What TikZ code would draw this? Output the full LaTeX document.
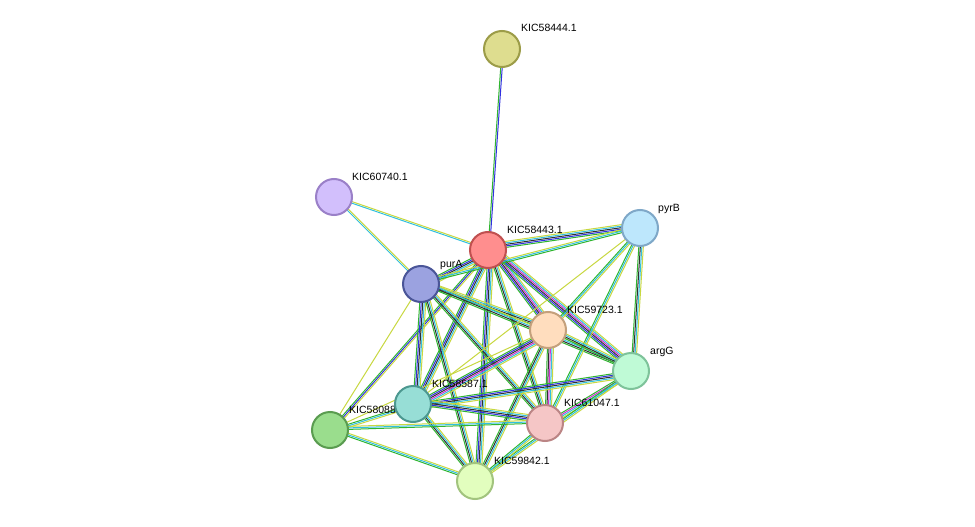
\documentclass[tikz,border=0pt]{standalone}
\usepackage{fontspec}
\setmainfont{Liberation Sans}
\usetikzlibrary{calc}
\definecolor{eg}{HTML}{2FB52F}
\definecolor{eb}{HTML}{3030E0}
\definecolor{ek}{HTML}{303030}
\definecolor{em}{HTML}{D030D0}
\definecolor{ec}{HTML}{30C0E0}
\definecolor{ey}{HTML}{C8D840}
\newcommand{\myedge}[3]{%
  \foreach \c [count=\i] in {#3} {
    \pgfmathsetmacro{\off}{(\i-1)*1.5}
    \draw[edge,draw=\c] ($(#1)!\off pt!90:(#2)$) -- ($(#2)!\off pt!-90:(#1)$);
  }}
\begin{document}
\begin{tikzpicture}[x=1pt,y=-1pt,
  edge/.style={line width=1pt},
  nd/.style={circle,minimum size=36pt,inner sep=0pt,line width=2pt},
  lb/.style={anchor=base west,font=\fontsize{10.5pt}{11pt}\selectfont,inner sep=0pt}]
\useasboundingbox (0,0) rectangle (975,527);
\fill[white] (0,0) rectangle (975,527);
\coordinate (a) at (502,49);
\coordinate (b) at (334,197);
\coordinate (c) at (488,250);
\coordinate (d) at (640,228);
\coordinate (e) at (421,284);
\coordinate (f) at (548,330);
\coordinate (g) at (631,371);
\coordinate (h) at (413,404);
\coordinate (i) at (330,430);
\coordinate (j) at (545,423);
\coordinate (k) at (475,481);
\myedge{a}{c}{eg,eb}
\myedge{b}{c}{ec,ey}
\myedge{b}{e}{ec,ey}
\myedge{c}{d}{eg,eb,ek,ec,ey}
\myedge{c}{e}{eg,eb,ek,ec,ey}
\myedge{c}{f}{eg,eb,ek,em,ec,ey}
\myedge{c}{g}{eg,eb,ek,em,ec,ey}
\myedge{c}{h}{eg,eb,ek,ec,ey}
\myedge{c}{i}{eg,eb,ey}
\myedge{c}{j}{eg,ek,ec,ey}
\myedge{c}{k}{eg,eb,ek,ec,ey}
\myedge{e}{d}{eg,ec,ey}
\myedge{e}{f}{eg,ek,ec,ey}
\myedge{e}{g}{eg,ek,ec,ey}
\myedge{e}{h}{eg,eb,ek,ec,ey}
\myedge{e}{i}{ey}
\myedge{e}{j}{eg,ek,ec,ey}
\myedge{e}{k}{eg,ek,ec,ey}
\myedge{d}{f}{eg,ec,ey}
\myedge{d}{g}{eg,ek,ec,ey}
\myedge{d}{j}{eg,ec,ey}
\myedge{d}{h}{ey}
\myedge{f}{g}{eg,ek,ec,ey}
\myedge{f}{h}{eg,eb,ek,em,ec,ey}
\myedge{f}{j}{eg,ek,em,ec,ey}
\myedge{f}{k}{eg,ek,ec,ey}
\myedge{f}{i}{ey}
\myedge{g}{h}{eg,eb,ek,ec,ey}
\myedge{g}{j}{eg,em,ec,ey}
\myedge{g}{k}{eg,ec,ey}
\myedge{h}{i}{eg,ec,ey}
\myedge{h}{j}{eg,eb,ek,ec,ey}
\myedge{h}{k}{eg,ek,ec,ey}
\myedge{i}{j}{eg,ec,ey}
\myedge{i}{k}{eg,ec,ey}
\myedge{j}{k}{eg,ec,ey}
\node[lb] (la) at ($(a)+(19,-17)$) {KIC58444.1};
\node[lb] (lb) at ($(b)+(18,-17)$) {KIC60740.1};
\node[lb] (lc) at ($(c)+(19,-17)$) {KIC58443.1};
\node[lb] (ld) at ($(d)+(18,-17)$) {pyrB};
\node[lb] (le) at ($(e)+(19,-17)$) {purA};
\node[lb] (lf) at ($(f)+(19,-17)$) {KIC59723.1};
\node[lb] (lg) at ($(g)+(19,-17)$) {argG};
\node[lb] (lh) at ($(h)+(19,-17)$) {KIC58587.1};
\node[lb] (li) at ($(i)+(19,-17)$) {KIC58088.1};
\node[lb] (lj) at ($(j)+(19,-17)$) {KIC61047.1};
\node[lb] (lk) at ($(k)+(19,-17)$) {KIC59842.1};
\node[nd,fill={rgb,255:red,222;green,221;blue,143},draw={rgb,255:red,156;green,156;blue,72}] (na) at (a) {};
\node[nd,fill={rgb,255:red,210;green,191;blue,252},draw={rgb,255:red,154;green,128;blue,200}] (nb) at (b) {};
\node[nd,fill={rgb,255:red,255;green,142;blue,142},draw={rgb,255:red,192;green,80;blue,80}] (nc) at (c) {};
\node[nd,fill={rgb,255:red,189;green,231;blue,252},draw={rgb,255:red,127;green,168;blue,200}] (nd) at (d) {};
\node[nd,fill={rgb,255:red,155;green,162;blue,224},draw={rgb,255:red,74;green,85;blue,152}] (ne) at (e) {};
\node[nd,fill={rgb,255:red,255;green,221;blue,190},draw={rgb,255:red,196;green,160;blue,124}] (nf) at (f) {};
\node[nd,fill={rgb,255:red,191;green,250;blue,214},draw={rgb,255:red,126;green,195;blue,154}] (ng) at (g) {};
\node[nd,fill={rgb,255:red,151;green,222;blue,214},draw={rgb,255:red,76;green,152;blue,144}] (nh) at (h) {};
\node[nd,fill={rgb,255:red,154;green,221;blue,141},draw={rgb,255:red,90;green,156;blue,80}] (ni) at (i) {};
\node[nd,fill={rgb,255:red,245;green,198;blue,198},draw={rgb,255:red,187;green,133;blue,133}] (nj) at (j) {};
\node[nd,fill={rgb,255:red,226;green,254;blue,190},draw={rgb,255:red,162;green,196;blue,126}] (nk) at (k) {};
\end{tikzpicture}
\end{document}
